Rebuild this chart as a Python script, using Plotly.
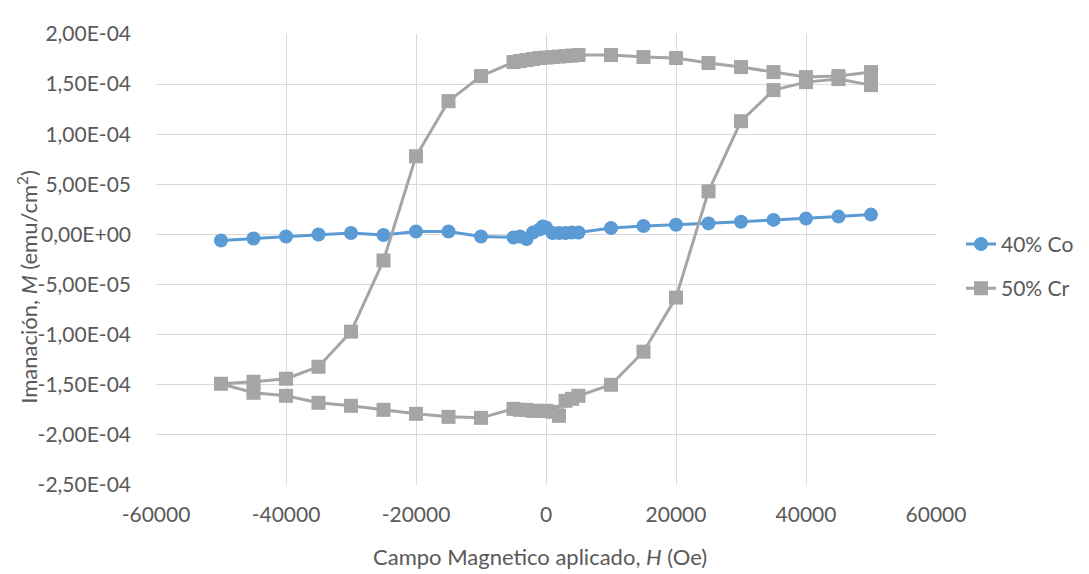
import plotly.graph_objects as go

# ---- data ----
H_co = [-50000, -45000, -40000, -35000, -30000, -25000, -20000, -15000, -10000,
        -5000, -4000, -3000, -2000, -1000, -500, 0, 1000, 2000, 3000, 4000, 5000,
        10000, 15000, 20000, 25000, 30000, 35000, 40000, 45000, 50000]
M_co = [-6.0e-6, -4.0e-6, -2.0e-6, 0.0, 1.5e-6, -0.5e-6, 3.0e-6, 3.0e-6, -2.0e-6,
        -3.0e-6, -2.0e-6, -4.5e-6, 2.0e-6, 5.0e-6, 8.0e-6, 7.0e-6, 1.5e-6, 1.5e-6, 1.5e-6, 2.0e-6, 2.0e-6,
        6.5e-6, 8.5e-6, 9.7e-6, 1.1e-5, 1.27e-5, 1.45e-5, 1.58e-5, 1.78e-5, 1.98e-5]

H_cr = [50000, 45000, 40000, 35000, 30000, 25000, 20000, 15000, 10000, 5000,
        4000, 3000, 2000, 1000, 0, -1000, -2000, -3000, -4000, -5000,
        -10000, -15000, -20000, -25000, -30000, -35000, -40000, -45000, -50000,
        -45000, -40000, -35000, -30000, -25000, -20000, -15000, -10000, -5000,
        -4000, -3000, -2000, -1000, 0, 1000, 2000, 3000, 4000, 5000,
        10000, 15000, 20000, 25000, 30000, 35000, 40000, 45000, 50000]
M_cr = [1.62e-4, 1.58e-4, 1.57e-4, 1.62e-4, 1.67e-4, 1.71e-4, 1.76e-4, 1.77e-4, 1.79e-4, 1.79e-4,
        1.785e-4, 1.78e-4, 1.775e-4, 1.77e-4, 1.765e-4, 1.76e-4, 1.75e-4, 1.74e-4, 1.73e-4, 1.72e-4,
        1.58e-4, 1.33e-4, 0.78e-4, -0.26e-4, -0.97e-4, -1.32e-4, -1.44e-4, -1.47e-4, -1.49e-4,
        -1.58e-4, -1.61e-4, -1.68e-4, -1.71e-4, -1.75e-4, -1.79e-4, -1.82e-4, -1.83e-4, -1.74e-4,
        -1.75e-4, -1.75e-4, -1.76e-4, -1.76e-4, -1.76e-4, -1.77e-4, -1.81e-4, -1.66e-4, -1.64e-4, -1.61e-4,
        -1.50e-4, -1.17e-4, -0.63e-4, 0.43e-4, 1.13e-4, 1.44e-4, 1.52e-4, 1.55e-4, 1.49e-4]

x_ticks = [-60000, -40000, -20000, 0, 20000, 40000, 60000]
y_ticks = [-2.5e-4, -2.0e-4, -1.5e-4, -1.0e-4, -5.0e-5, 0.0, 5.0e-5, 1.0e-4, 1.5e-4, 2.0e-4]
y_ticktext = ["-2,50E-04", "-2,00E-04", "-1,50E-04", "-1,00E-04", "-5,00E-05",
              "0,00E+00", "5,00E-05", "1,00E-04", "1,50E-04", "2,00E-04"]

FONT = "Lato, 'Open Sans', sans-serif"
TXT = "#595959"
GRID = "#D9D9D9"

# plot area in page pixels: x 156..936, y 22..485 (page body has an 8px margin)
L, T, W, Hh = 148, 14, 780, 463

fig = go.Figure()
fig.add_trace(go.Scatter(
    x=H_co, y=M_co, name="40% Co", mode="lines+markers", legendgroup="a",
    line=dict(color="#5B9BD5", width=3),
    marker=dict(symbol="circle", size=14, color="#5B9BD5"),
))
fig.add_trace(go.Scatter(
    x=H_cr, y=M_cr, name="50% Cr", mode="lines+markers", legendgroup="b",
    line=dict(color="#A5A5A5", width=3),
    marker=dict(symbol="square", size=14, color="#A5A5A5"),
))

fig.update_layout(
    width=1089, height=574,
    paper_bgcolor="white", plot_bgcolor="white",
    margin=dict(l=L, r=1089 - L - W, t=T, b=574 - T - Hh),
    font=dict(family=FONT, size=21, color=TXT),
    legend=dict(x=(961 - 156) / 780, y=(485 - 260.5) / 463, xanchor="left", yanchor="middle",
                font=dict(family=FONT, size=21, color=TXT),
                tracegroupgap=14, itemsizing="trace", bgcolor="rgba(0,0,0,0)"),
    showlegend=True,
    annotations=[
        dict(text="Imanación, <i>M</i> (emu/cm<sup>2</sup>)", textangle=-90,
             xref="paper", yref="paper", x=(28 - 156) / 780, y=(485 - 281.5) / 463,
             xanchor="center", yanchor="middle", showarrow=False,
             font=dict(family=FONT, size=22, color=TXT)),
        dict(text="Campo Magnetico aplicado, <i>H</i> (Oe)",
             xref="paper", yref="paper", x=(540 - 156) / 780, y=-(558 - 485) / 463,
             xanchor="center", yanchor="middle", showarrow=False,
             font=dict(family=FONT, size=22, color=TXT)),
    ],
)
fig.update_xaxes(
    range=[-60000, 60000], tickvals=x_ticks, ticktext=[str(v) for v in x_ticks],
    showgrid=True, gridcolor=GRID, gridwidth=1, zeroline=False,
    showline=False, ticks="", ticklabelstandoff=15,
    tickfont=dict(family=FONT, size=21, color=TXT),
)
fig.update_yaxes(
    range=[-2.5e-4, 2.0e-4], tickvals=y_ticks, ticktext=y_ticktext,
    showgrid=True, gridcolor=GRID, gridwidth=1, zeroline=False,
    showline=False, ticks="", ticklabelstandoff=24,
    tickfont=dict(family=FONT, size=21, color=TXT),
)

fig.write_html("out.html")
